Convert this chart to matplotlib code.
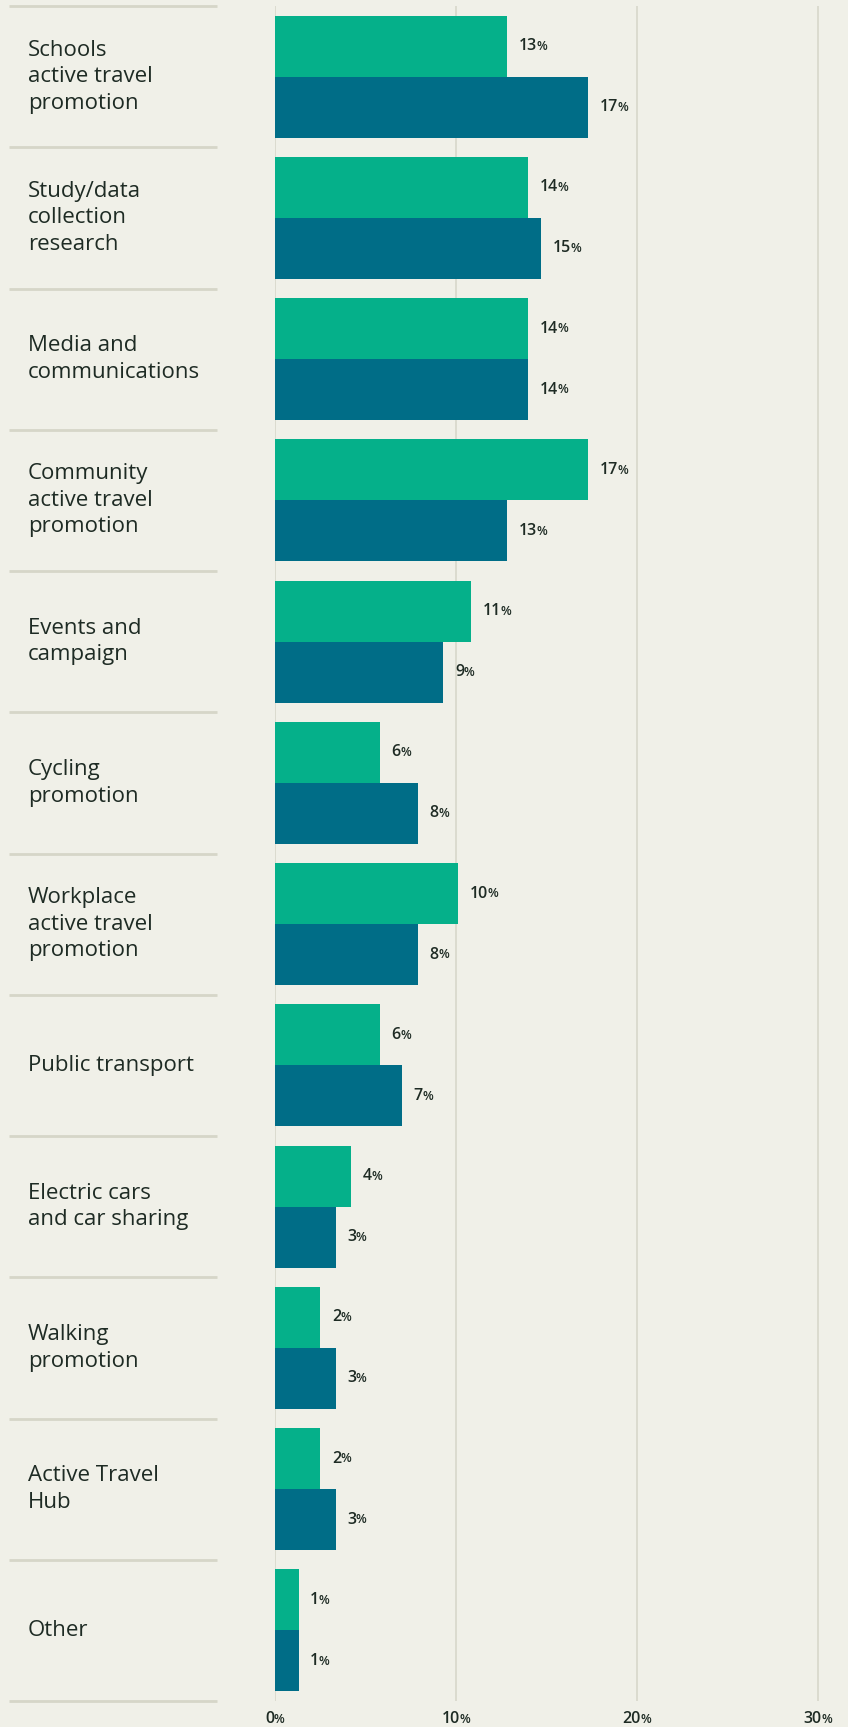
import matplotlib
matplotlib.use('Agg')
import matplotlib.pyplot as plt
from matplotlib.transforms import blended_transform_factory

# categories top to bottom
categories = ['Schools\nactive travel\npromotion',
              'Study/data\ncollection\nresearch',
              'Media and\ncommunications',
              'Community\nactive travel\npromotion',
              'Events and\ncampaign',
              'Cycling\npromotion',
              'Workplace\nactive travel\npromotion',
              'Public transport',
              'Electric cars\nand car sharing',
              'Walking\npromotion',
              'Active Travel\nHub',
              'Other']

# series values (% of projects)
green_vals = [12.8, 14.0, 14.0, 17.3, 10.85, 5.8, 10.1, 5.8, 4.2, 2.5, 2.5, 1.3]
blue_vals = [17.3, 14.7, 14.0, 12.8, 9.3, 7.9, 7.9, 7.0, 3.35, 3.35, 3.35, 1.3]
# printed labels
green_labels = ['13', '14', '14', '17', '11', '6', '10', '6', '4', '2', '2', '1']
blue_labels = ['17', '15', '14', '13', '9', '8', '8', '7', '3', '3', '3', '1']
xticks = [0, 10, 20, 30]

BG = '#f0f0e8'
GREEN = '#05b08a'
BLUE = '#006d87'
TXT = '#1e2b24'
GRID = '#d9d9cd'
SEP = '#d6d6c8'
FONT = 'Open Sans'

W, H = 848, 1727
fig = plt.figure(figsize=(W / 100, H / 100), dpi=100, facecolor=BG)
ax_left, ax_right = 275, 836
ax_top, ax_bot = 6, 1701
ax = fig.add_axes([ax_left / W, 1 - ax_bot / H, (ax_right - ax_left) / W, (ax_bot - ax_top) / H])
ax.set_facecolor(BG)
for s in ax.spines.values():
    s.set_visible(False)

n = len(categories)
ax.set_ylim(n - 0.5, -0.5)
ax.set_xlim(0, 31)
ax.set_xticks([])
ax.set_yticks([])

for xv in xticks:
    ax.axvline(xv, color=GRID, lw=1.3, zorder=0)

bh = 0.432
ys = list(range(n))
ax.barh([y - bh / 2 for y in ys], green_vals, height=bh, color=GREEN, zorder=2)
ax.barh([y + bh / 2 for y in ys], blue_vals, height=bh, color=BLUE, zorder=2)


def pct_label(x, y, num, size, trans, ha='left'):
    t = ax.text(x, y, num, fontsize=size, color=TXT, family=FONT, weight='semibold',
                ha=ha, va='center', transform=trans, clip_on=False)
    ax.annotate('%', xy=(1, 0.08), xycoords=t, xytext=(-0.3, 0), textcoords='offset points',
                fontsize=size * 0.78, color=TXT, family=FONT, weight='semibold',
                ha='left', va='bottom', annotation_clip=False)
    return t


for y, v, lab in zip(ys, green_vals, green_labels):
    pct_label(v + 0.65, y - bh / 2, lab, 11.5, ax.transData)
for y, v, lab in zip(ys, blue_vals, blue_labels):
    pct_label(v + 0.65, y + bh / 2, lab, 11.5, ax.transData)

# left labels and separators
tr = blended_transform_factory(fig.transFigure, ax.transData)
for i, cat in enumerate(categories):
    ax.text(28 / W, i, cat, transform=tr, fontsize=16, color=TXT, family=FONT,
            weight='medium', ha='left', va='center', linespacing=1.35, clip_on=False)
for k in range(n + 1):
    ax.plot([9 / W, 217 / W], [k - 0.5, k - 0.5], transform=tr, color=SEP, lw=2,
            clip_on=False, solid_capstyle='butt')

# x tick labels
trx = blended_transform_factory(ax.transData, fig.transFigure)
for xv in xticks:
    t = ax.text(xv - 0.3, 1 - 1719 / H, str(xv), transform=trx, fontsize=11.5, color=TXT,
                family=FONT, weight='semibold', ha='center', va='center', clip_on=False)
    ax.annotate('%', xy=(1, 0.08), xycoords=t, xytext=(-0.3, 0), textcoords='offset points',
                fontsize=11.5 * 0.78, color=TXT, family=FONT, weight='semibold',
                ha='left', va='bottom', annotation_clip=False)

fig.savefig('out.png', dpi=100, facecolor=BG)
